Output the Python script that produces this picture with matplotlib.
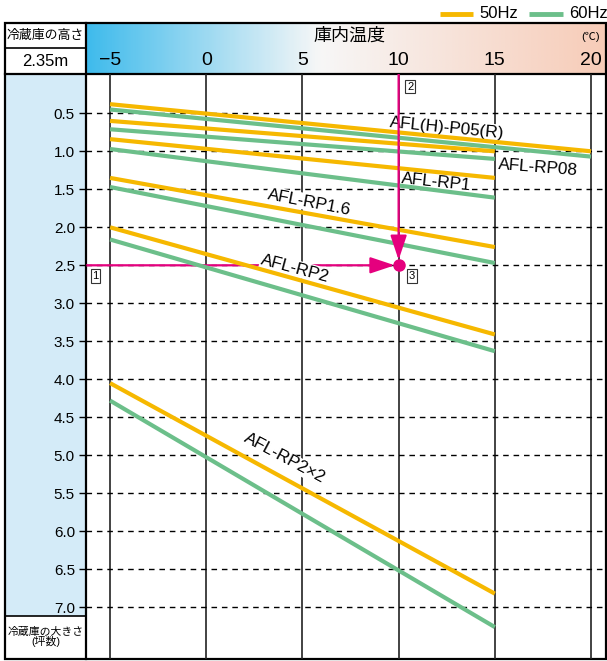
import numpy as np
import matplotlib.pyplot as plt
from matplotlib.colors import LinearSegmentedColormap
from matplotlib.patches import Rectangle, FancyArrowPatch

plt.rcParams['font.family'] = ['Liberation Sans', 'Noto Sans CJK JP', 'DejaVu Sans']

# chart data
models = ["AFL(H)-P05(R)", "AFL-RP08", "AFL-RP1", "AFL-RP1.6", "AFL-RP2", "AFL-RP2×2"]
temp_start = [-5, -5, -5, -5, -5, -5]
temp_end = [20, 15, 15, 15, 15, 15]
hz50_start = [0.38, 0.60, 0.84, 1.35, 2.00, 4.05]
hz50_end = [1.00, 1.00, 1.35, 2.26, 3.41, 6.82]
hz60_start = [0.45, 0.71, 0.97, 1.47, 2.16, 4.28]
hz60_end = [1.07, 1.10, 1.61, 2.47, 3.63, 7.26]

# label placement (temp, size, angle)
label_x = [12.5, 17.25, 11.95, 5.34, 4.62, 4.05]
label_y = [0.69, 1.21, 1.40, 1.67, 2.54, 5.04]
label_rot = [-5.6, -4.5, -6, -11, -15, -28]

temp_ticks = [-5, 0, 5, 10, 15, 20]
size_ticks = [0.5, 1.0, 1.5, 2.0, 2.5, 3.0, 3.5, 4.0, 4.5, 5.0, 5.5, 6.0, 6.5, 7.0]
ceiling = "2.35m"
ex_temp = 10
ex_size = 2.5

orange = '#f6b800'
green = '#6cbf8a'
pink = '#e5007e'

W, H = 607, 661
fig = plt.figure(figsize=(W / 100, H / 100), dpi=100)
bg = fig.add_axes([0, 0, 1, 1])
bg.axis('off')

L, R, T, B = 86, 606, 74, 659
top = 23.3

# header gradient
cmap = LinearSegmentedColormap.from_list('hdr', [(0, '#3fbbec'), (0.45, '#f7f7f7'), (1, '#f7ccb8')])
grad = np.linspace(0, 1, 300).reshape(1, -1)
bg.imshow(grad, extent=(L, R, T, top), aspect='auto', cmap=cmap)

# left column
bg.add_patch(Rectangle((5, T), L - 5, 616 - T, fc='#d4ebf8', ec='none'))
bg.add_patch(Rectangle((5, top), R - 5, B - top, fill=False, ec='black', lw=1.6))
bg.plot([5, R], [T, T], color='black', lw=1.6)
bg.plot([5, L], [47.7, 47.7], color='black', lw=1.2)
bg.plot([L, L], [top, B], color='black', lw=1.6)
bg.plot([5, L], [616, 616], color='black', lw=1.2)

bg.text(45.5, 36, "冷蔵庫の高さ", ha='center', va='center', fontsize=9.3)
bg.text(45.5, 61, ceiling, ha='center', va='center', fontsize=12)
bg.text(45.5, 637, "冷蔵庫の大きさ\n(坪数)", ha='center', va='center', fontsize=7.8, linespacing=0.95)
bg.text(349, 36, "庫内温度", ha='center', va='center', fontsize=13)
bg.text(591, 37, "(℃)", ha='center', va='center', fontsize=8)

# legend
bg.plot([440, 473], [13.5, 13.5], color=orange, lw=3.5, solid_capstyle='butt')
bg.text(479, 13.5, "50Hz", va='center', fontsize=12)
bg.plot([529, 563], [13.5, 13.5], color=green, lw=3.5, solid_capstyle='butt')
bg.text(569, 13.5, "60Hz", va='center', fontsize=12)

bg.set_xlim(0, W)
bg.set_ylim(H, 0)

# plot area
ax = fig.add_axes([L / W, 1 - B / H, (R - L) / W, (B - T) / H])
ax.set_facecolor('none')
ax.set_xlim(-6.25, 20.78)
ax.set_ylim(7.68, -0.017)
for s in ax.spines.values():
    s.set_visible(False)
ax.set_xticks([])
ax.set_yticks(size_ticks)
ax.set_yticklabels([f"{v:.1f}" for v in size_ticks], fontsize=11)
ax.tick_params(axis='y', length=5, width=1, pad=3)

for t in temp_ticks:
    ax.axvline(t, color='#222222', lw=1.2, zorder=1)
    lbl = f"{t}".replace('-', '−')
    ax.text(t, 1 + 13.5 / (B - T), lbl, transform=ax.get_xaxis_transform(),
            ha='center', va='center', fontsize=14)
for v in size_ticks:
    ax.axhline(v, color='black', lw=1, dashes=(4, 3.5), zorder=1)

for i in range(len(models)):
    ax.plot([temp_start[i], temp_end[i]], [hz50_start[i], hz50_end[i]], color=orange, lw=3,
            solid_capstyle='butt', zorder=2)
    ax.plot([temp_start[i], temp_end[i]], [hz60_start[i], hz60_end[i]], color=green, lw=3,
            solid_capstyle='butt', zorder=2)
    ax.text(label_x[i], label_y[i], models[i], rotation=label_rot[i], rotation_mode='anchor',
            ha='center', va='center', fontsize=12.3, zorder=1.5,
            bbox=dict(boxstyle='square,pad=0.05', fc='white', ec='none'))

# worked example
x0 = ax.get_xlim()[0]
y0 = ax.get_ylim()[1]
ax.add_patch(FancyArrowPatch((x0, ex_size), (ex_temp - 0.2, ex_size),
                             arrowstyle='-|>,head_length=0.75,head_width=0.25', mutation_scale=20,
                             color=pink, lw=1.6, shrinkA=0, shrinkB=0, zorder=1.3))
ax.add_patch(FancyArrowPatch((ex_temp, y0), (ex_temp, ex_size - 0.07),
                             arrowstyle='-|>,head_length=0.75,head_width=0.25', mutation_scale=20,
                             color=pink, lw=1.6, shrinkA=0, shrinkB=0, zorder=2.5))
ax.plot(ex_temp, ex_size, 'o', color=pink, ms=8, zorder=3)

box = dict(boxstyle='square,pad=0.15', fc='white', ec='#333333', lw=0.8)
ax.text(-5.76, 2.64, "1", fontsize=8, ha='center', va='center', bbox=box, zorder=4)
ax.text(10.6, 0.15, "2", fontsize=8, ha='center', va='center', bbox=box, zorder=4)
ax.text(10.7, 2.64, "3", fontsize=8, ha='center', va='center', bbox=box, zorder=4)

fig.savefig('out.png', dpi=100)
